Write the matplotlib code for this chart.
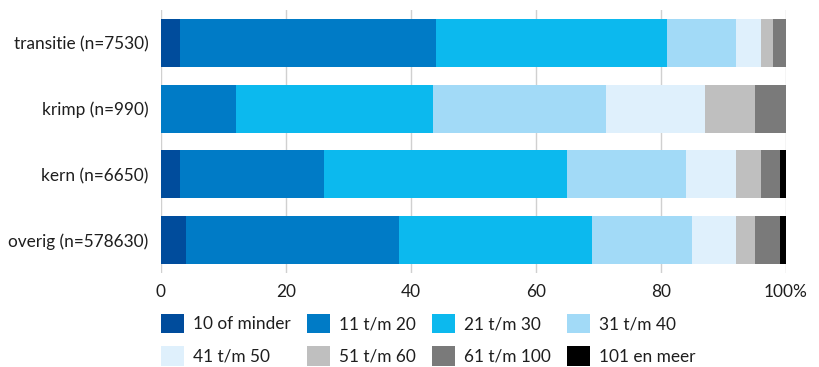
import matplotlib.pyplot as plt
import matplotlib.transforms as mtransforms
import numpy as np

# gebieden en aandeel per klasse (%)
gebieden = ["transitie (n=7530)", "krimp (n=990)", "kern (n=6650)", "overig (n=578630)"]
klassen = ["10 of minder", "11 t/m 20", "21 t/m 30", "31 t/m 40",
           "41 t/m 50", "51 t/m 60", "61 t/m 100", "101 en meer"]
kleuren = ["#004c9c", "#007bc6", "#0cb9ee", "#a2daf7",
           "#dff0fc", "#bfbfbf", "#7a7a7a", "#000000"]

transitie = [3, 41, 37, 11, 4, 2, 2, 0]
krimp = [0, 12, 31.6, 27.6, 15.8, 8, 5, 0]
kern = [3, 23, 39, 19, 8, 4, 3, 1]
overig = [4, 34, 31, 16, 7, 3, 4, 1]

waarden = np.array([transitie, krimp, kern, overig])
xticks = [0, 20, 40, 60, 80, 100]

plt.rcParams['font.family'] = ['Lato', 'DejaVu Sans']
tekstkleur = "#1e1e1e"
fs = 12.4

fig = plt.figure(figsize=(8.19, 3.67), dpi=100)
ax = fig.add_axes([161 / 819, 1 - 273 / 367, (786 - 161) / 819, (273 - 10) / 367])

y = np.arange(len(gebieden))
links = np.zeros(len(gebieden))
balken = []
for i, klasse in enumerate(klassen):
    b = ax.barh(y, waarden[:, i], left=links, height=0.73, color=kleuren[i],
                label=klasse, linewidth=0)
    balken.append(b)
    links += waarden[:, i]

ax.set_ylim(len(gebieden) - 0.5, -0.5)
ax.set_xlim(0, 100)
ax.set_yticks(y)
ax.set_yticklabels(gebieden)
ax.set_xticks(xticks)
ax.set_xticklabels([str(t) if t < 100 else "100%" for t in xticks])
# % achter de 100 laten uitsteken
lbl = ax.get_xticklabels()[-1]
lbl.set_transform(lbl.get_transform() + mtransforms.ScaledTranslation(12 / 100, 0, fig.dpi_scale_trans))

ax.tick_params(axis='both', length=0, labelsize=fs, colors=tekstkleur)
ax.tick_params(axis='x', pad=8)
ax.tick_params(axis='y', pad=9)
ax.grid(axis='x', color="#d0d0d0", linewidth=1)
ax.set_axisbelow(True)
for s in ax.spines.values():
    s.set_visible(False)

# legenda: twee rijen, rij voor rij gevuld
volgorde = [0, 4, 1, 5, 2, 6, 3, 7]
leg = fig.legend([balken[i] for i in volgorde], [klassen[i] for i in volgorde],
                 ncol=4, loc='upper left', bbox_to_anchor=(161 / 819, 1 - 314 / 367),
                 frameon=False, fontsize=fs, handlelength=1.35, handleheight=1.35,
                 handletextpad=0.5, labelspacing=0.75, columnspacing=0.95, borderpad=0,
                 borderaxespad=0)
for t in leg.get_texts():
    t.set_color(tekstkleur)

fig.savefig("out.png", dpi=100)
